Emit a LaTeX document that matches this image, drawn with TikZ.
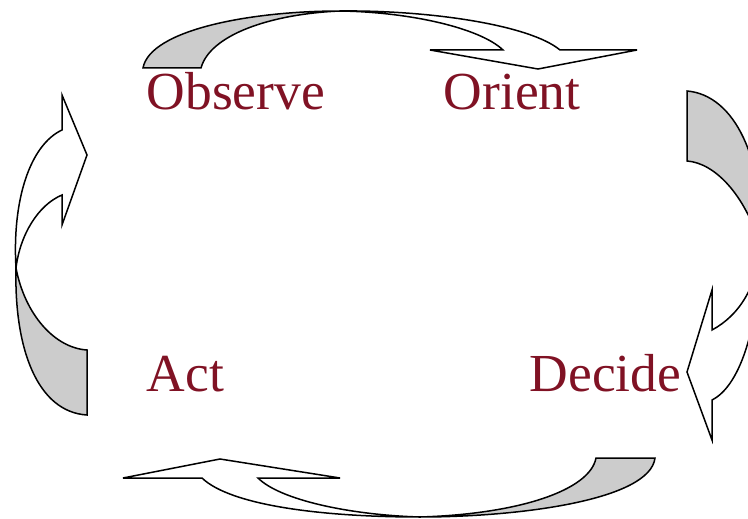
\documentclass[tikz,border=0pt]{standalone}
\usepackage{fontspec}
\setmainfont{Liberation Serif}
\definecolor{loopred}{RGB}{128,18,36}

\begin{document}
\begin{tikzpicture}[x=1pt,y=-1pt,line width=1.5pt,
  back/.style={draw=black,fill=black!20},
  front/.style={draw=black,fill=white},
  word/.style={anchor=base west,inner sep=0pt,text=loopred,font=\fontsize{53.5}{60}\selectfont}]
  \useasboundingbox (0,0) rectangle (748,519);
  \clip (0,0) rectangle (748,519);

  % where each band turns over
  \coordinate (T) at (340,11);
  \coordinate (R) at (760,245);
  \coordinate (B) at (420,517);
  \coordinate (L) at (16,268);

  % top band
  \draw[back] (143,68) -- (201,68)
    .. controls (210,35) and (270,14) .. (T)
    .. controls (250,11) and (150,30) .. (143,68) -- cycle;
  \draw[front] (T) .. controls (430,10) and (530,25) .. (560,50)
    -- (637,50) -- (538,69) -- (430,50) -- (503,50)
    .. controls (480,28) and (410,12) .. (T) -- cycle;

  % right band
  \draw[back] (687,91) -- (687,161)
    .. controls (715,163) and (745,195) .. (R)
    .. controls (765,160) and (735,95) .. (687,91) -- cycle;
  \draw[front] (R) .. controls (758,285) and (740,315) .. (712,330)
    -- (712,290) -- (687,372) -- (712,440) -- (712,400)
    .. controls (742,385) and (760,320) .. (R) -- cycle;

  % bottom band
  \draw[back] (655,458) -- (596,458)
    .. controls (590,490) and (520,514) .. (B)
    .. controls (520,517) and (650,500) .. (655,458) -- cycle;
  \draw[front] (B) .. controls (320,517) and (230,505) .. (202,478)
    -- (123,478) -- (220,459) -- (340,478) -- (258,478)
    .. controls (280,500) and (350,515) .. (B) -- cycle;

  % left band
  \draw[back] (87,350) -- (87,415)
    .. controls (38,412) and (14,350) .. (L)
    .. controls (25,315) and (55,348) .. (87,350) -- cycle;
  \draw[front] (L) .. controls (12,200) and (30,145) .. (62,130)
    -- (62,95) -- (87,155) -- (62,225) -- (62,195)
    .. controls (38,205) and (20,235) .. (L) -- cycle;

  \node[word] (obs) at (146,110) {Observe};
  \node[word] (ori) at (443,110) {Orient};
  \node[word] (dec) at (529,391) {Decide};
  \node[word] (act) at (146,391) {Act};
\end{tikzpicture}
\end{document}
